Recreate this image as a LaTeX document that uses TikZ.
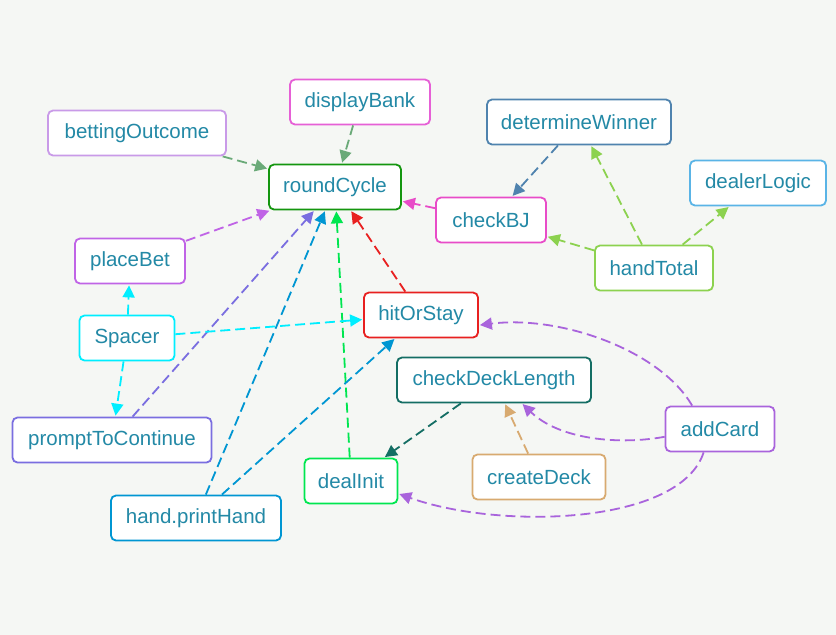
\documentclass[tikz,border=0pt]{standalone}
\usepackage{fontspec}
\setmainfont{Liberation Sans}
\usetikzlibrary{arrows.meta}
\definecolor{bg}{HTML}{F5F7F4}
\definecolor{txt}{HTML}{2389A6}
\definecolor{cDisplay}{HTML}{E660D6}
\definecolor{cBetting}{HTML}{C99AE8}
\definecolor{cRound}{HTML}{14960F}
\definecolor{cDeterm}{HTML}{4F83AE}
\definecolor{cDealer}{HTML}{5AB4E6}
\definecolor{cCheckBJ}{HTML}{E84CC8}
\definecolor{cHandT}{HTML}{8CD24F}
\definecolor{cPlace}{HTML}{C064E6}
\definecolor{cSpacer}{HTML}{00EEFF}
\definecolor{cHit}{HTML}{E82020}
\definecolor{cDeck}{HTML}{146E64}
\definecolor{cPrompt}{HTML}{7A6EE0}
\definecolor{cAdd}{HTML}{A964DC}
\definecolor{cDeal}{HTML}{00E650}
\definecolor{cCreate}{HTML}{D8AA70}
\definecolor{cPrint}{HTML}{0096D2}
\definecolor{cGreenGray}{HTML}{6AAA78}
\tikzset{
  box/.style={draw=#1, line width=1.8pt, rounded corners=5pt, fill=white,
    text=txt, font=\fontsize{20.5}{24}\selectfont, inner sep=0pt, anchor=center},
  edge/.style={draw=#1, line width=1.8pt, dash pattern=on 10pt off 5pt,
    -{Triangle[length=12pt,width=12pt,fill=#1,sep=0pt]}, shorten >=1pt},
}
\begin{document}
\begin{tikzpicture}[x=1pt,y=-1pt]
\fill[bg] (0,0) rectangle (836,635);
\useasboundingbox (0,0) rectangle (836,635);
% nodes
\node[box=cDisplay, minimum width=140pt, minimum height=45pt] (displayBank) at (360,102) {displayBank};
\node[box=cBetting, minimum width=178pt, minimum height=45pt] (bettingOutcome) at (137,133) {bettingOutcome};
\node[box=cRound, minimum width=132pt, minimum height=45pt] (roundCycle) at (335,187) {roundCycle};
\node[box=cDeterm, minimum width=184pt, minimum height=45pt] (determineWinner) at (579,122) {determineWinner};
\node[box=cDealer, minimum width=136pt, minimum height=45pt] (dealerLogic) at (758,183) {dealerLogic};
\node[box=cCheckBJ, minimum width=110pt, minimum height=45pt] (checkBJ) at (491,220) {checkBJ};
\node[box=cHandT, minimum width=118pt, minimum height=45pt] (handTotal) at (654,268) {handTotal};
\node[box=cPlace, minimum width=110pt, minimum height=45pt] (placeBet) at (130,261) {placeBet};
\node[box=cSpacer, minimum width=95pt, minimum height=45pt] (Spacer) at (127,338) {Spacer};
\node[box=cHit, minimum width=114pt, minimum height=45pt] (hitOrStay) at (421,315) {hitOrStay};
\node[box=cDeck, minimum width=194pt, minimum height=45pt] (checkDeckLength) at (494,380) {checkDeckLength};
\node[box=cPrompt, minimum width=199pt, minimum height=45pt] (promptToContinue) at (112,440) {promptToContinue};
\node[box=cAdd, minimum width=109pt, minimum height=45pt] (addCard) at (720,429) {addCard};
\node[box=cDeal, minimum width=93pt, minimum height=45pt] (dealInit) at (351,481) {dealInit};
\node[box=cCreate, minimum width=133pt, minimum height=45pt] (createDeck) at (539,477) {createDeck};
\node[box=cPrint, minimum width=170pt, minimum height=45pt] (printHand) at (196,518) {hand.printHand};
% edges
\draw[edge=cGreenGray] (bettingOutcome) -- (roundCycle);
\draw[edge=cGreenGray] (displayBank) -- (roundCycle);
\draw[edge=cCheckBJ] (checkBJ) -- (roundCycle);
\draw[edge=cPlace] (placeBet) -- (roundCycle);
\draw[edge=cPrompt] (promptToContinue) -- (roundCycle);
\draw[edge=cPrint] (printHand) -- (roundCycle);
\draw[edge=cDeal] (dealInit) -- (roundCycle);
\draw[edge=cHit] (hitOrStay) -- (roundCycle);
\draw[edge=cDeterm] (determineWinner) -- (checkBJ);
\draw[edge=cHandT] (handTotal) -- (determineWinner);
\draw[edge=cHandT] (handTotal) -- (dealerLogic);
\draw[edge=cHandT] (handTotal) -- (checkBJ);
\draw[edge=cSpacer] (Spacer) -- (placeBet);
\draw[edge=cSpacer] (Spacer) -- (hitOrStay);
\draw[edge=cSpacer] (Spacer) -- (promptToContinue);
\draw[edge=cPrint] (printHand) -- (hitOrStay);
\draw[edge=cDeck] (checkDeckLength) -- (dealInit);
\draw[edge=cCreate] (createDeck) -- (checkDeckLength);
\draw[edge=cAdd] (addCard.140) .. controls (660,350) and (560,315) .. (hitOrStay.-10);
\draw[edge=cAdd] (addCard.188) .. controls (620,445) and (560,440) .. (checkDeckLength.-40);
\draw[edge=cAdd] (addCard.-125) .. controls (680,525) and (500,530) .. (dealInit.-15);
\end{tikzpicture}
\end{document}
